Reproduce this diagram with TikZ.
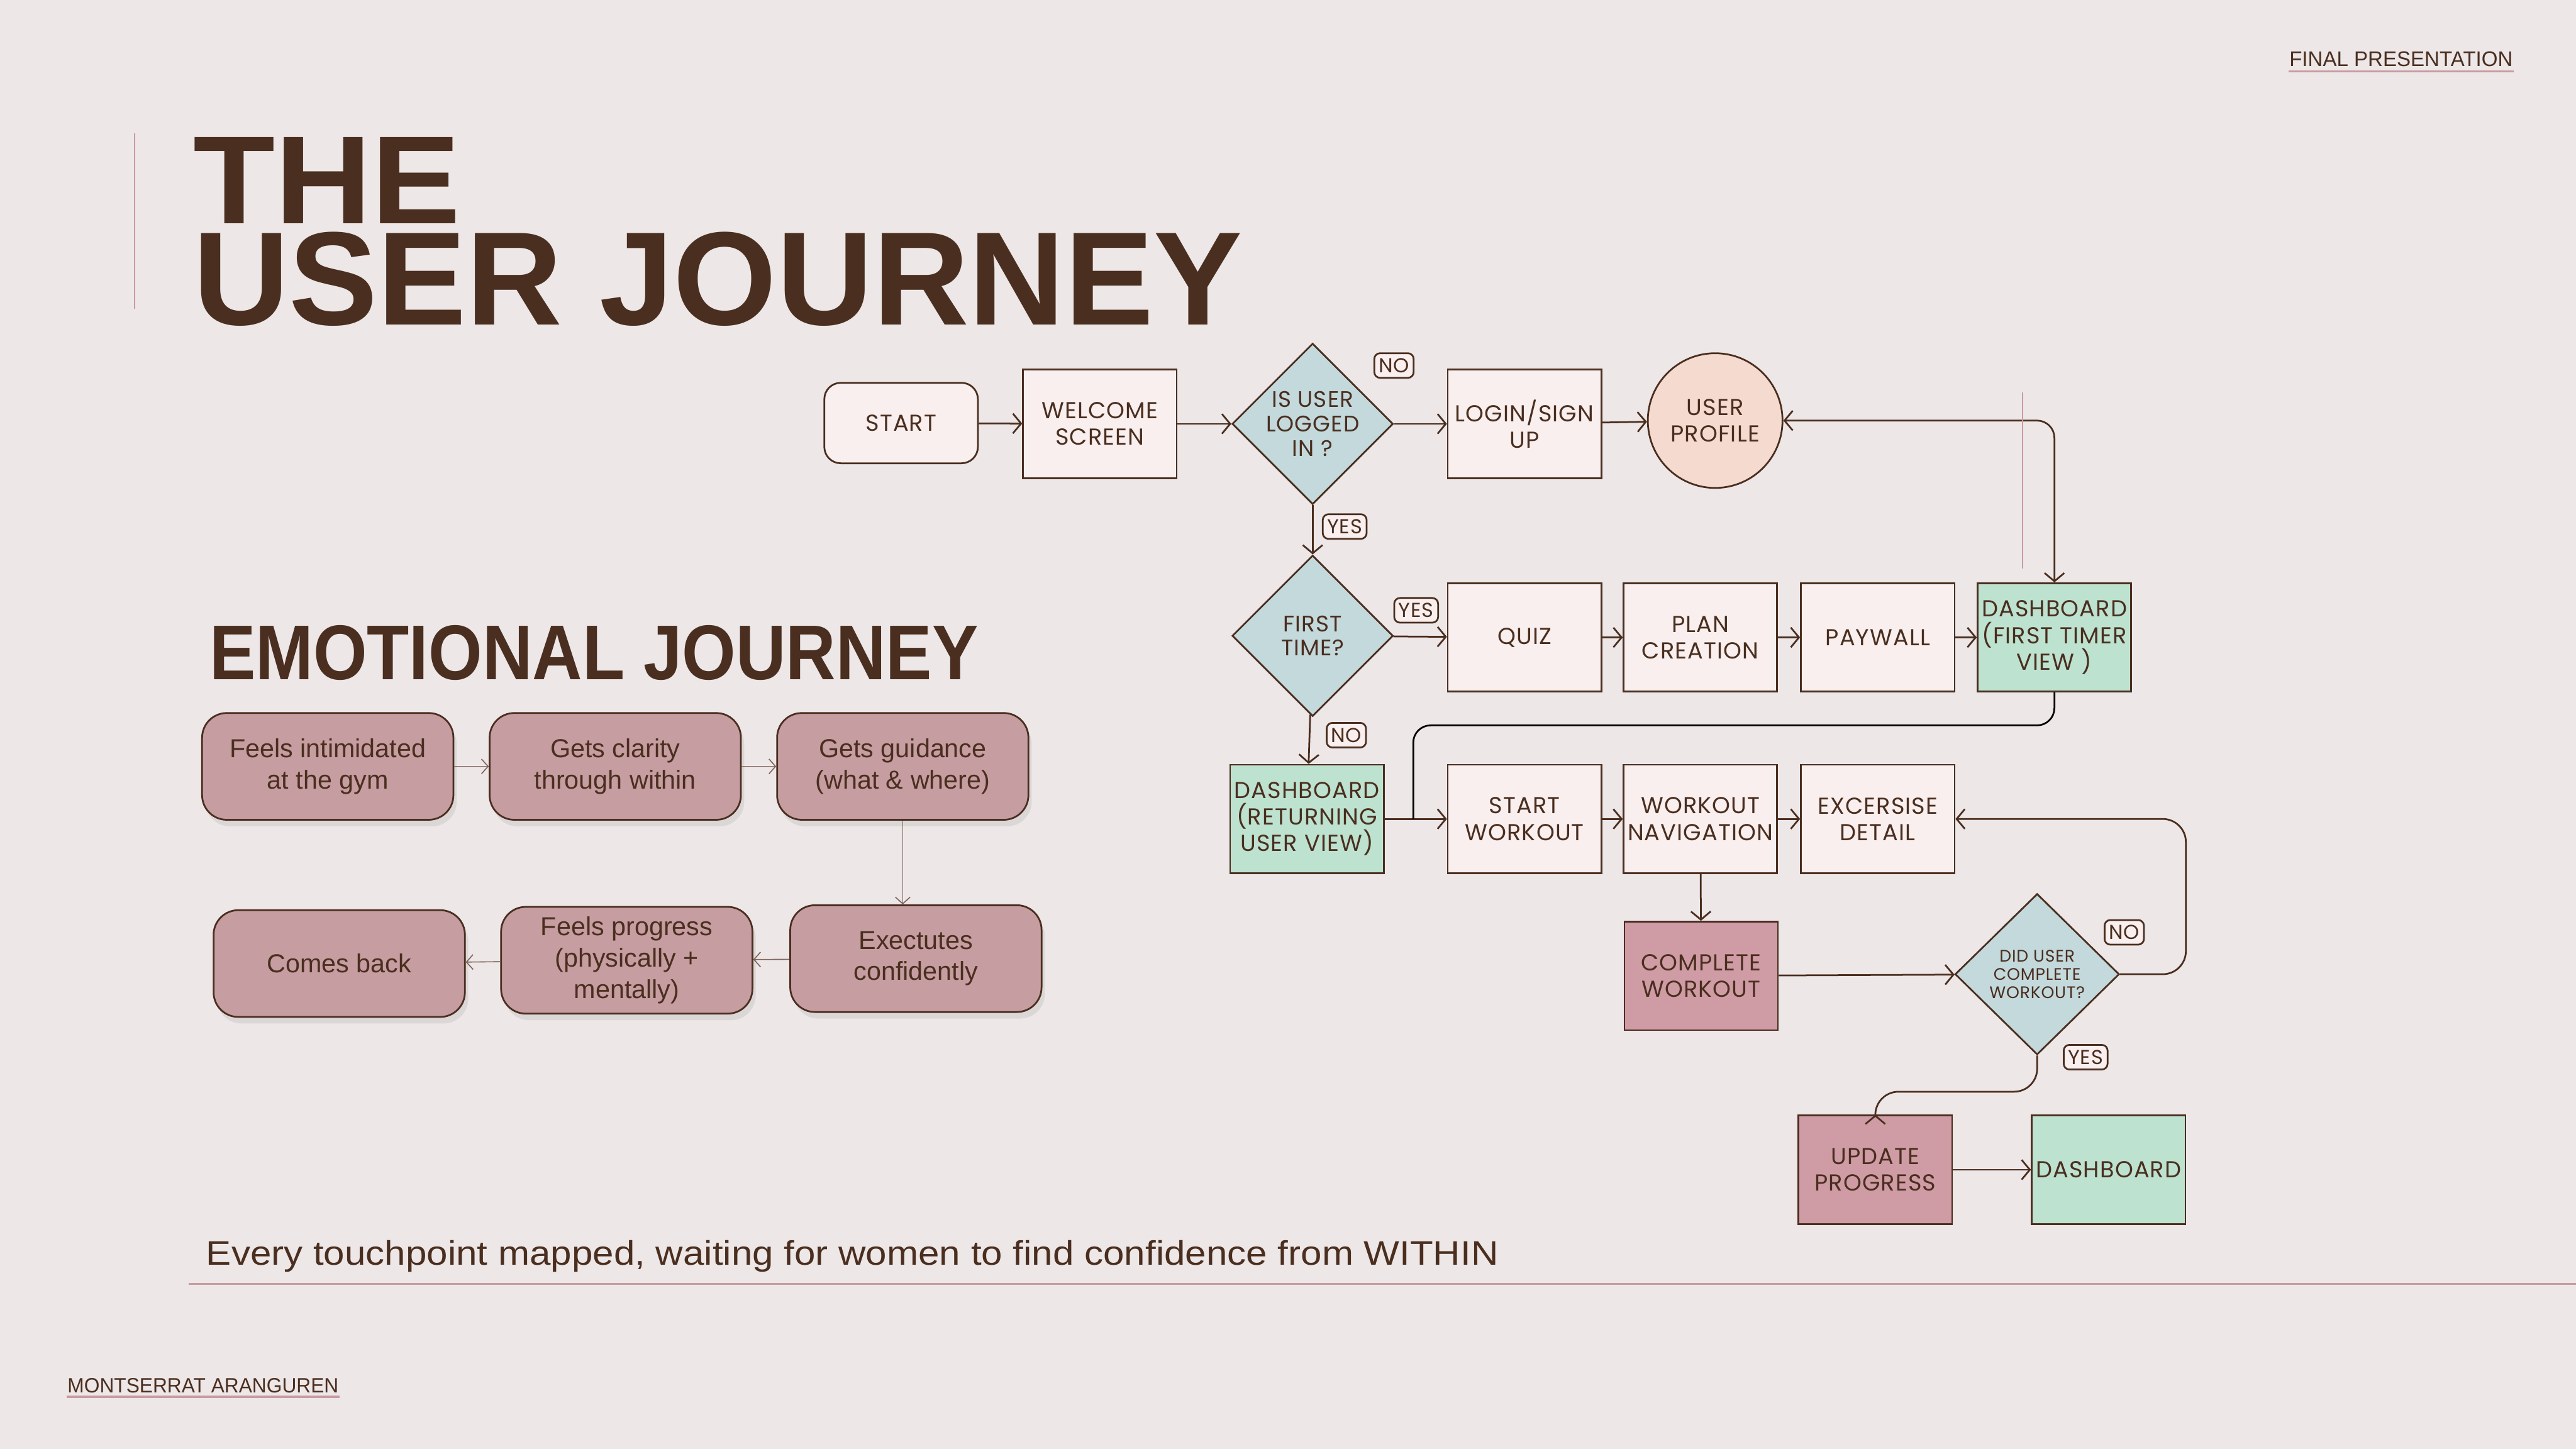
\documentclass[tikz,border=0pt]{standalone}
\usepackage{graphicx}
\usepackage{fontspec}
\setmainfont{Poppins}[LetterSpace=3]
\newfontfamily\grotesk{Liberation Sans}
\usetikzlibrary{arrows.meta, positioning, shapes.geometric, calc, shadows}
\definecolor{cbg}{HTML}{EDE7E7}
\definecolor{cbrown}{HTML}{4A2E1F}
\definecolor{ccream}{HTML}{F8EFEE}
\definecolor{cblue}{HTML}{C3D9DC}
\definecolor{cpeach}{HTML}{F5DBCF}
\definecolor{cmint}{HTML}{BDE2D0}
\definecolor{crose}{HTML}{CF9CA5}
\definecolor{cmauve}{HTML}{C69DA1}
\definecolor{cline}{HTML}{C99AA2}
\definecolor{csoft}{HTML}{7D625A}
\tikzset{
  every picture/.style={line width=0.6pt, text=cbrown},
  box/.style={draw=cbrown, fill=#1, align=center, inner xsep=0.5pt, inner ysep=2pt, minimum width=1.87cm, minimum height=1.32cm, font=\fontsize{8}{9.2}\selectfont},
  box/.default=ccream,
  dec/.style={diamond, aspect=1, draw=cbrown, fill=cblue, align=center, inner sep=0pt, minimum width=1.96cm, minimum height=1.96cm, font=\fontsize{7.8}{8.4}\selectfont},
  tag/.style={draw=cbrown, fill=ccream, rounded corners=2pt, inner xsep=1.5pt, inner ysep=1pt, minimum height=0.3cm, font=\fontsize{7}{8}\selectfont},
  arrow/.style={-{Straight Barb[length=1mm, width=2.4mm]}, draw=cbrown},
  feel/.style={draw=cbrown, fill=cmauve, rounded corners=0.3cm, align=center, minimum width=3.06cm, minimum height=1.3cm, font=\grotesk\fontsize{9}{10.8}\selectfont, drop shadow={opacity=0.15, shadow xshift=0.4mm, shadow yshift=-0.8mm}},
  soft/.style={-{Straight Barb[length=0.8mm, width=1.8mm]}, draw=csoft, line width=0.35pt},
  title/.style={font=\grotesk\bfseries, inner sep=0pt, anchor=north west},
  note/.style={font=\grotesk, inner sep=0pt, anchor=south west},
}

\begin{document}
\begin{tikzpicture}[x=0.02cm, y=-0.02cm]
  \fill[cbg] (0,0) rectangle (1568,882);
  \useasboundingbox (0,0) rectangle (1568,882);
  \node[note] (deck) at (1393,41) {\resizebox{2.72cm}{0.18cm}{FINAL PRESENTATION}};
  \draw[cline, line width=0.8pt] ([yshift=-0.05cm]deck.south west) -- ([yshift=-0.05cm]deck.south east);
  \draw[cline, line width=0.4pt] (82,81) -- (82,188);
  \node[title, align=left] (heading) at (117,83) {\resizebox{3.26cm}{1.05cm}{THE}\\[2pt]\resizebox{12.78cm}{1.13cm}{USER JOURNEY}};
  \node[title] (emo) at (127,380) {\resizebox{9.36cm}{0.66cm}{EMOTIONAL JOURNEY}};

  \node[box, rounded corners=0.2cm, minimum height=0.98cm] (start) at (548.5,257.5) {START};
  \node[box] (welcome) at (669.5,258) {WELCOME\\SCREEN};
  \node[dec] (logged) at (799,258) {IS USER\\LOGGED\\IN ?};
  \node[box] (login) at (928,258) {LOGIN/SIGN\\UP};
  \node[box, circle, fill=cpeach, minimum size=1.64cm] (profile) at (1044,256) {USER\\PROFILE};
  \node[dec] (first) at (799,387) {FIRST\\TIME?};
  \node[box] (quiz) at (928,388) {QUIZ};
  \node[box] (plan) at (1035,388) {PLAN\\CREATION};
  \node[box] (paywall) at (1143,388) {PAYWALL};
  \node[box=cmint] (dashF) at (1250.5,388) {DASHBOARD\\(FIRST TIMER\\VIEW )};
  \node[box=cmint] (dashR) at (795.5,498.5) {DASHBOARD\\(RETURNING\\USER VIEW)};
  \node[box] (startw) at (928,498.5) {START\\WORKOUT};
  \node[box] (nav) at (1035,498.5) {WORKOUT\\NAVIGATION};
  \node[box] (exd) at (1143,498.5) {EXCERSISE\\DETAIL};
  \node[box=crose] (done) at (1035.5,594) {COMPLETE\\WORKOUT};
  \node[dec, minimum width=2cm, font=\fontsize{5.8}{6.3}\selectfont] (did) at (1240,593) {DID USER\\COMPLETE\\WORKOUT?};
  \node[box=crose] (upd) at (1141.5,712) {UPDATE\\PROGRESS};
  \node[box=cmint] (dash) at (1283.5,712) {DASHBOARD};

  \node[tag] (noA) at (848.5,222.5) {NO};
  \node[tag] (yesA) at (818.5,320.5) {YES};
  \node[tag] (yesB) at (862,371.5) {YES};
  \node[tag] (noB) at (819.5,447.5) {NO};
  \node[tag] (noC) at (1293,567.5) {NO};
  \node[tag] (yesC) at (1269.5,643.5) {YES};

  \coordinate (merge) at ($(dashR.east)!0.46!(startw.west)$);
  \draw[arrow] (start) -- (welcome);
  \draw[arrow] (welcome) -- (logged);
  \draw[arrow] (logged) -- (login);
  \draw[arrow] (login) -- (profile);
  \draw[arrow] (logged) -- (first);
  \draw[arrow] (first) -- (quiz);
  \draw[arrow] (quiz) -- (plan);
  \draw[arrow] (plan) -- (paywall);
  \draw[arrow] (paywall) -- (dashF);
  \draw[{Straight Barb[length=1mm, width=2.4mm]}-{Straight Barb[length=1mm, width=2.4mm]}, draw=cbrown, rounded corners=6pt] (profile.east) -| (dashF.north);
  \draw[cline, line width=0.4pt] (1231,239) -- (1231,346);
  \draw[arrow] (first) -- (dashR);
  \draw[arrow] (dashR) -- (startw);
  \draw[rounded corners=6pt] (dashF.south) -- ++(0,20) -| (merge);
  \draw[arrow] (startw) -- (nav);
  \draw[arrow] (nav) -- (exd);
  \draw[arrow] (nav) -- (done);
  \draw[arrow] (done) -- (did);
  \draw[arrow, rounded corners=8pt] (did.east) -- ++(40,0) |- (exd.east);
  \draw[arrow, rounded corners=8pt] (did.south) -- ++(0,22) -| (upd.north);
  \draw[arrow] (upd) -- (dash);

  \node[feel] (e1) at (199.5,466.5) {Feels intimidated\\at the gym};
  \node[feel] (e2) at (374.5,466.5) {Gets clarity\\through within};
  \node[feel] (e3) at (549.5,466.5) {Gets guidance\\(what \& where)};
  \node[feel] (e4) at (557.5,583.5) {Exectutes\\confidently};
  \node[feel] (e5) at (381.5,584.5) {Feels progress\\(physically +\\mentally)};
  \node[feel] (e6) at (206.5,586.5) {Comes back};
  \draw[soft] (e1) -- (e2);
  \draw[soft] (e2) -- (e3);
  \draw[soft] (e3.south) -- (e3.south |- e4.north);
  \draw[soft] (e4) -- (e5);
  \draw[soft] (e5) -- (e6);

  \node[note, anchor=base west, font=\grotesk\fontsize{11.8}{14}\selectfont] (tagline) at (125,770) {\scalebox{1.11}[1]{Every touchpoint mapped, waiting for women to find confidence from WITHIN}};
  \draw[cline, line width=0.6pt] (115,781.5) -- (1568,781.5);
  \node[note] (author) at (40.6,848.3) {\resizebox{3.3cm}{0.176cm}{MONTSERRAT ARANGUREN}};
  \draw[cline, line width=0.8pt] ([yshift=-0.04cm]author.south west) -- ([yshift=-0.04cm]author.south east);
\end{tikzpicture}
\end{document}
